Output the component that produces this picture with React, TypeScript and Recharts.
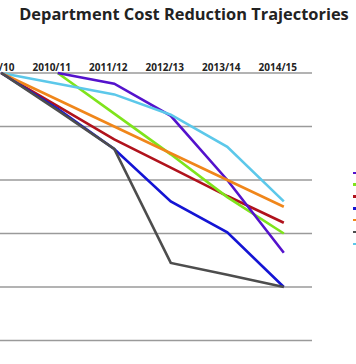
import React from 'react';
import { LineChart, Line, XAxis, YAxis, CartesianGrid, Legend } from 'recharts';

const years = ['2009/10', '2010/11', '2011/12', '2012/13', '2013/14', '2014/15'];

// cost index per department (2009/10 = 100)
const health = [100, 93.8, 87.6, 82.3, 77, 72];
const education = [null, 100, 92.4, 84.8, 76.8, 70];
const defence = [null, 100, 98, 92, 80, 66.4];
const transport = [100, 98, 96, 92.2, 86.2, 76];
const justice = [100, 95, 90, 85, 80, 75];
const homeOffice = [100, 93.3, 85.8, 76, 70.2, 60];
const localGovt = [100, 93, 85.8, 64.5, 62.3, 60];

const yTicks = [50, 60, 70, 80, 90, 100];

const series = [
    { key: 'health', name: 'Health', color: '#b0121c', values: health },
    { key: 'education', name: 'Education', color: '#7fe41c', values: education },
    { key: 'defence', name: 'Defence', color: '#5412cc', values: defence },
    { key: 'transport', name: 'Transport', color: '#5cc8ea', values: transport },
    { key: 'justice', name: 'Justice', color: '#f0861a', values: justice },
    { key: 'homeOffice', name: 'Home Office', color: '#1414d4', values: homeOffice },
    { key: 'localGovt', name: 'Local Government', color: '#4d4d4d', values: localGovt },
];

const data = years.map((year, i) => {
    const row: Record<string, string | number | null> = { year };
    series.forEach((s) => {
        row[s.key] = s.values[i];
    });
    return row;
});

const YearTick = (props: any) => {
    const { x, y, payload } = props;
    return (
        <text
            x={x - 6}
            y={y}
            textAnchor="middle"
            fill="#222"
            fontSize={10}
            fontWeight={700}
            fontFamily="'Open Sans', sans-serif"
        >
            {payload.value}
        </text>
    );
};

// legend sits at the right edge, only the swatches fall inside the frame
const LegendList = (props: any) => {
    const { payload } = props;
    return (
        <div style={{ fontFamily: "'Open Sans', sans-serif", fontSize: 9, color: '#333' }}>
            {(payload || []).map((p: any) => (
                <div key={p.value} style={{ display: 'flex', alignItems: 'center', height: 11.83, whiteSpace: 'nowrap' }}>
                    <span style={{ display: 'inline-block', width: 10, height: 2.5, background: p.color }} />
                    <span style={{ marginLeft: 6 }}>{p.value}</span>
                </div>
            ))}
        </div>
    );
};

export default function App() {
    return (
        <div
            style={{
                position: 'absolute',
                left: 0,
                top: 0,
                width: 356,
                height: 364,
                overflow: 'hidden',
                background: '#fff',
            }}
        >
            <div
                style={{
                    position: 'absolute',
                    left: 0,
                    top: 4.3,
                    width: 368,
                    textAlign: 'center',
                    fontFamily: "'Open Sans', sans-serif",
                    fontWeight: 700,
                    fontSize: 16.4,
                    lineHeight: '20px',
                    color: '#222',
                    whiteSpace: 'nowrap',
                }}
            >
                Department Cost Reduction Trajectories
            </div>
            <div style={{ position: 'absolute', left: -27, top: 0 }}>
                <LineChart
                    width={459}
                    height={364}
                    data={data}
                    margin={{ top: 43, right: 120, left: 0, bottom: 23.5 }}
                >
                    <CartesianGrid vertical={false} stroke="#9a9a9a" strokeWidth={1.5} />
                    <XAxis
                        dataKey="year"
                        orientation="top"
                        height={30}
                        axisLine={false}
                        tickLine={false}
                        tickSize={0}
                        tickMargin={2.5}
                        interval={0}
                        padding={{ left: 28.2, right: 28.2 }}
                        tick={<YearTick />}
                    />
                    <YAxis hide domain={[50, 100]} ticks={yTicks} />
                    <Legend
                        layout="vertical"
                        align="center"
                        verticalAlign="middle"
                        content={<LegendList />}
                        wrapperStyle={{ left: 380, top: 167, width: 120 }}
                    />
                    {series.map((s) => (
                        <Line
                            key={s.key}
                            dataKey={s.key}
                            name={s.name}
                            stroke={s.color}
                            strokeWidth={2.6}
                            dot={false}
                            activeDot={false}
                            type="linear"
                            isAnimationActive={false}
                        />
                    ))}
                </LineChart>
            </div>
        </div>
    );
}
